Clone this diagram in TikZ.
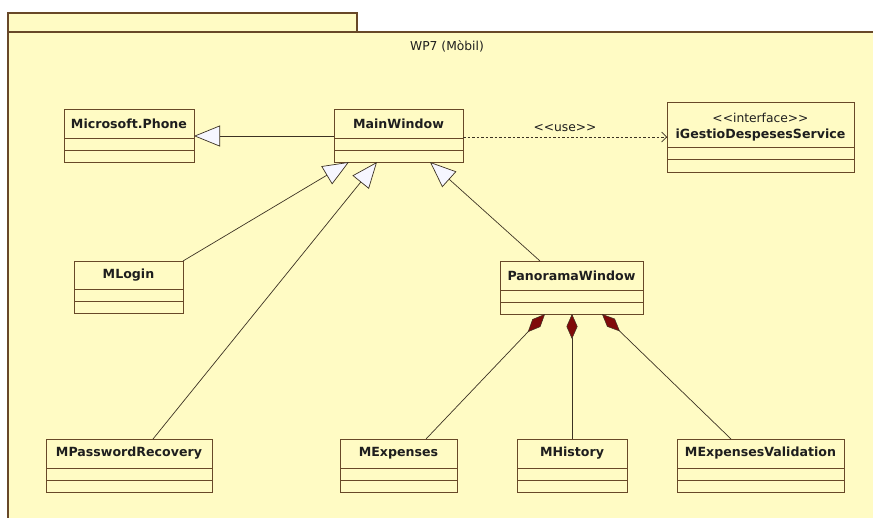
\documentclass[tikz,border=0pt]{standalone}
\usepackage{fontspec}
\newfontfamily\umlfont{DejaVu Sans}
\usetikzlibrary{arrows.meta,calc}

\definecolor{pkgfill}{RGB}{255,251,196}
\definecolor{frame}{RGB}{104,72,40}
\definecolor{wire}{RGB}{60,50,35}
\definecolor{ink}{RGB}{30,30,30}
\definecolor{compfill}{RGB}{128,10,10}
\definecolor{hollow}{RGB}{246,246,255}

% a UML class: name, left, top, right, header height, compartment height, title
\newcommand\umlclass[7]{%
  \node[classbox, anchor=north west, minimum width={(#4-#2)*1pt},
        minimum height={(#5+2*#6)*1pt}] (#1) at (#2,#3) {};
  \draw[frame, line width=1pt] ([yshift=-#5pt]#1.north west) -- ([yshift=-#5pt]#1.north east);
  \draw[frame, line width=1pt] ([yshift={-(#5+#6)*1pt}]#1.north west) -- ([yshift={-(#5+#6)*1pt}]#1.north east);
  \node[classname] at ([yshift={-#5/2*1pt}]#1.north) {#7};
}

\tikzset{
  x=1pt, y=-1pt,
  classbox/.style={draw=frame, line width=1pt, fill=pkgfill, inner sep=0pt, outer sep=0pt},
  classname/.style={font=\umlfont\bfseries\fontsize{12.6}{14}\selectfont, text=ink, inner sep=0pt},
  plaintext/.style={font=\umlfont\fontsize{12.3}{14}\selectfont, text=ink, inner sep=0pt},
  inherits/.style={draw=wire, line width=0.7pt,
      -{Triangle[length=26pt, width=21pt, fill=hollow, line width=0.7pt]}},
  composes/.style={draw=wire, line width=0.7pt,
      {Diamond[length=25pt, width=11pt, fill=compfill, line width=0.5pt]}-},
  uses/.style={draw=wire, line width=0.7pt, dash pattern=on 2.5pt off 2pt,
      -{Straight Barb[length=5pt, width=10pt, line width=0.7pt]}},
}

\begin{document}
\begin{tikzpicture}
\useasboundingbox[fill=white] (0,0) rectangle (873,517);

% package WP7 (tab + body)
\fill[pkgfill] (8,13) rectangle (357,32);
\fill[pkgfill] (8,32) rectangle (880,525);
\draw[frame, line width=1.2pt] (8,525) -- (8,13) -- (357,13) -- (357,32);
\draw[frame, line width=1.2pt] (8,32) -- (880,32);
\node[plaintext] (pkgtitle) at (447,46) {WP7 (Mòbil)};

% classes
\umlclass{phone}{64}{109}{194}{29}{12}{Microsoft.Phone}
\umlclass{main}{334}{109}{463}{29}{12}{MainWindow}
\node[classbox, anchor=north west, minimum width=187pt, minimum height=70pt] (svc) at (667,102) {};
\draw[frame, line width=1pt] ([yshift=-45pt]svc.north west) -- ([yshift=-45pt]svc.north east);
\draw[frame, line width=1pt] ([yshift=-57pt]svc.north west) -- ([yshift=-57pt]svc.north east);
\node[plaintext] (svcstereo) at ([yshift=-16pt]svc.north) {<{}<interface>{}>};
\node[classname] (svcname) at ([yshift=-33pt]svc.north) {iGestioDespesesService};

\umlclass{login}{74}{261}{183}{28}{12}{MLogin}
\umlclass{pano}{500}{261}{643}{29}{12}{PanoramaWindow}
\umlclass{pwd}{46}{439}{212}{29}{12}{MPasswordRecovery}
\umlclass{exp}{340}{439}{457}{29}{12}{MExpenses}
\umlclass{hist}{517}{439}{627}{29}{12}{MHistory}
\umlclass{val}{677}{439}{844}{29}{12}{MExpensesValidation}

% attachment points on the borders
\coordinate (main-a) at ([xshift=15pt]main.south west);
\coordinate (main-b) at ([xshift=43pt]main.south west);
\coordinate (main-c) at ([xshift=96pt]main.south west);
\coordinate (main-l) at ([yshift=-27pt]main.north west);
\coordinate (main-r) at ([yshift=-28pt]main.north east);
\coordinate (phone-r) at ([yshift=-27pt]phone.north east);
\coordinate (svc-l) at ([yshift=-35pt]svc.north west);
\coordinate (pwd-t) at ([xshift=107pt]pwd.north west);
\coordinate (pano-t) at ([xshift=40pt]pano.north west);
\coordinate (pano-a) at ([xshift=45pt]pano.south west);
\coordinate (pano-b) at ([xshift=72pt]pano.south west);
\coordinate (pano-c) at ([xshift=102pt]pano.south west);
\coordinate (exp-t) at ([xshift=86pt]exp.north west);
\coordinate (val-t) at ([xshift=54pt]val.north west);

% generalizations
\draw[inherits] (main-l) -- (phone-r);
\draw[inherits] (login.north east) -- (main-a);
\draw[inherits] (pwd-t) -- (main-b);
\draw[inherits] (pano-t) -- (main-c);

% dependency
\draw[uses] (main-r) -- node[plaintext, pos=0.5, above=5pt] (uselbl) {<{}<use>{}>} (svc-l);

% compositions
\draw[composes] (pano-a) -- (exp-t);
\draw[composes] (pano-b) -- (hist.north);
\draw[composes] (pano-c) -- (val-t);
\end{tikzpicture}
\end{document}
